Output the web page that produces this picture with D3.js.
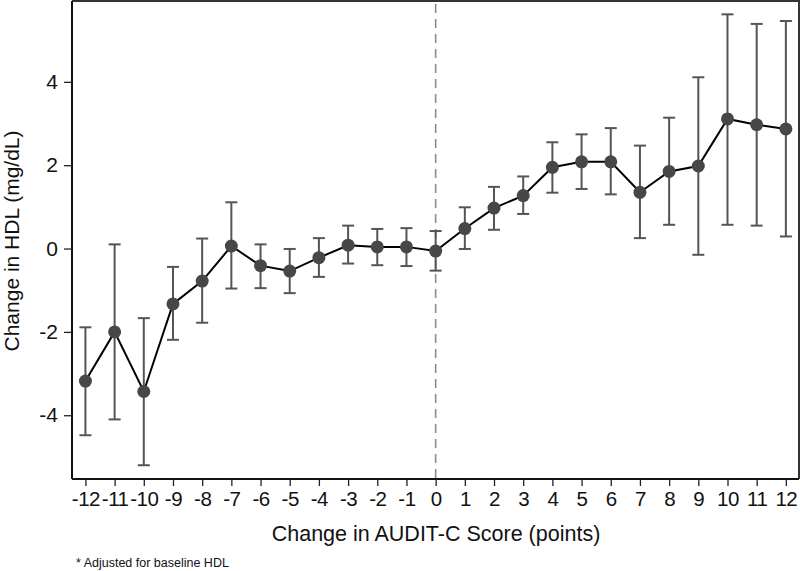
<!DOCTYPE html>
<html><head><meta charset="utf-8">
<script src="https://cdn.jsdelivr.net/npm/d3@7"></script>
<style>body{margin:0;background:#fff}svg{display:block}text{font-family:"Liberation Sans",Arial,sans-serif}</style>
</head><body><svg id="c" width="800" height="571"></svg>
<script>
const scores = [-12,-11,-10,-9,-8,-7,-6,-5,-4,-3,-2,-1,0,1,2,3,4,5,6,7,8,9,10,11,12];
const estimate = [-3.18,-2.00,-3.43,-1.33,-0.78,0.06,-0.41,-0.54,-0.22,0.08,0.04,0.04,-0.06,0.48,0.97,1.27,1.95,2.08,2.08,1.35,1.85,1.98,3.11,2.97,2.87];
const upper = [-1.89,0.10,-1.67,-0.44,0.24,1.11,0.10,-0.01,0.25,0.55,0.47,0.49,0.42,0.99,1.48,1.73,2.55,2.74,2.89,2.47,3.14,4.11,5.62,5.39,5.46];
const lower = [-4.48,-4.10,-5.20,-2.19,-1.78,-0.96,-0.95,-1.07,-0.68,-0.36,-0.40,-0.42,-0.53,-0.01,0.45,0.83,1.34,1.43,1.30,0.25,0.57,-0.15,0.57,0.55,0.29];
const yTicks = [-4,-2,0,2,4];

const svg = d3.select("#c");
const L = 72, R = 799, T = 1, B = 479;
const x = d3.scaleLinear().domain([-12.46, 12.45]).range([L, R]);
const y = d3.scaleLinear().domain([-5.53, 5.94]).range([B, T]);
const fmt = d => String(d);

// frame top/right
svg.append("path").attr("d", `M${L},${T}H${R}V${B}`).attr("fill","none").attr("stroke","#333").attr("stroke-width",2);

// zero reference line
svg.append("line").attr("x1", x(0)).attr("x2", x(0)).attr("y1", T+3).attr("y2", B)
  .attr("stroke","#8c8c8c").attr("stroke-width",1.6).attr("stroke-dasharray","9,6");

// axes
const xAxis = svg.append("g").attr("transform",`translate(0,${B})`)
  .call(d3.axisBottom(x).tickValues(scores).tickFormat(fmt).tickSize(7).tickPadding(5));
const yAxis = svg.append("g").attr("transform",`translate(${L},0)`)
  .call(d3.axisLeft(y).tickValues(yTicks).tickFormat(fmt).tickSize(8).tickPadding(6));
[xAxis, yAxis].forEach(g => {
  g.select(".domain").attr("stroke","#111").attr("stroke-width",2);
  g.selectAll(".tick line").attr("stroke","#222").attr("stroke-width",1.3);
  g.selectAll("text").attr("fill","#111").style("font-family","'Liberation Sans',Arial,sans-serif");
});
xAxis.select(".domain").attr("d", `M${L},0H${R}`);
yAxis.select(".domain").attr("d", `M0,${T}V${B}`);
xAxis.selectAll("text").style("font-size","20.5px").attr("dy","0.71em").attr("letter-spacing","-0.5px");
yAxis.selectAll("text").style("font-size","21px");

// error bars
const data = scores.map((s,i)=>({s, e:estimate[i], u:upper[i], l:lower[i]}));
const eb = svg.append("g").attr("stroke","#555").attr("stroke-width",2).attr("fill","none");
data.forEach(d => {
  eb.append("line").attr("x1",x(d.s)).attr("x2",x(d.s)).attr("y1",y(d.u)).attr("y2",y(d.l));
  eb.append("line").attr("x1",x(d.s)-6).attr("x2",x(d.s)+6).attr("y1",y(d.u)).attr("y2",y(d.u));
  eb.append("line").attr("x1",x(d.s)-6).attr("x2",x(d.s)+6).attr("y1",y(d.l)).attr("y2",y(d.l));
});

// line
svg.append("path").datum(data)
  .attr("d", d3.line().x(d=>x(d.s)).y(d=>y(d.e)))
  .attr("fill","none").attr("stroke","#000").attr("stroke-width",2);

// points
svg.append("g").selectAll("circle").data(data).join("circle")
  .attr("cx", d=>x(d.s)).attr("cy", d=>y(d.e)).attr("r",6.5).attr("fill","#474747");

// labels
svg.append("text").attr("x", 436).attr("y", 541).attr("text-anchor","middle")
  .style("font-size","21.5px").attr("fill","#111").text("Change in AUDIT-C Score (points)");
svg.append("text").attr("transform","translate(19,241) rotate(-90)").attr("text-anchor","middle")
  .style("font-size","21px").attr("fill","#111").text("Change in HDL (mg/dL)");
svg.append("text").attr("x", 76).attr("y", 567)
  .style("font-size","12.5px").attr("fill","#111").text("* Adjusted for baseline HDL");
</script></body></html>
